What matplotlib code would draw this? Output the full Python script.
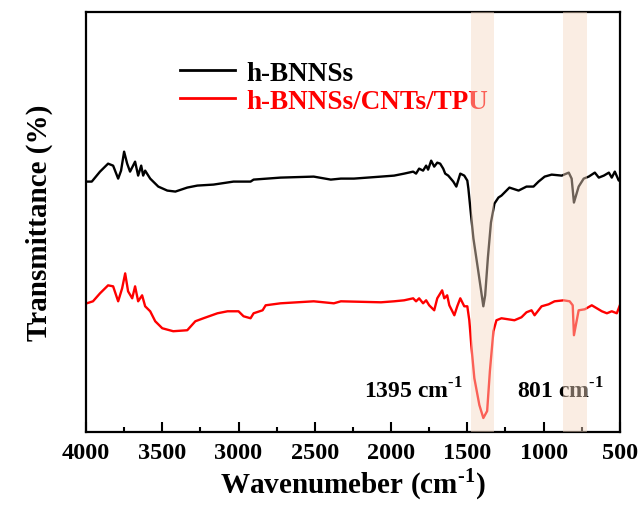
import matplotlib
matplotlib.use("Agg")
import matplotlib.pyplot as plt
from matplotlib.ticker import MultipleLocator

plt.rcParams['font.family'] = ['Liberation Serif', 'DejaVu Serif']
plt.rcParams['font.weight'] = 'bold'
plt.rcParams['mathtext.fontset'] = 'custom'
plt.rcParams['mathtext.rm'] = 'Liberation Serif:bold'
plt.rcParams['mathtext.bf'] = 'Liberation Serif:bold'

# FTIR spectra (wavenumber in cm-1, transmittance in a.u.)
bnns_wn = [3995, 3962, 3908, 3855, 3822, 3789, 3770, 3750, 3730, 3711, 3678, 3658,
           3638, 3625, 3612, 3579, 3526, 3467, 3414, 3336, 3270, 3164, 3033, 2921,
           2901, 2724, 2507, 2395, 2329, 2243, 2066, 1980, 1914, 1855, 1836, 1816,
           1790, 1770, 1757, 1737, 1717, 1697, 1678, 1658, 1645, 1625, 1592, 1572,
           1546, 1520, 1500, 1493, 1480, 1460, 1428, 1410, 1395, 1383, 1365, 1345,
           1322, 1296, 1276, 1224, 1164, 1112, 1066, 1033, 993, 947, 881, 835,
           816, 801, 770, 737, 704, 664, 638, 605, 572, 553, 533, 507, 500]
bnns_t = [251, 251, 261, 269, 267, 254, 262, 281, 269, 261, 271, 257,
          267, 257, 262, 254, 246, 242, 241, 245, 247, 248, 251, 251,
          253, 255, 256, 253, 254, 254, 256, 257, 259, 261, 259, 264,
          262, 267, 263, 272, 266, 270, 269, 264, 259, 257, 251, 246,
          259, 257, 252, 244, 224, 194, 161, 142, 126, 137, 175, 210,
          229, 235, 237, 245, 242, 246, 246, 251, 256, 258, 257, 260,
          254, 230, 246, 254, 256, 260, 255, 257, 260, 255, 261, 252, 254]

comp_wn = [3995, 3954, 3908, 3855, 3822, 3789, 3763, 3743, 3724, 3697, 3678, 3658,
           3632, 3612, 3579, 3546, 3500, 3428, 3336, 3283, 3230, 3138, 3072, 3000,
           2967, 2921, 2901, 2842, 2822, 2724, 2507, 2375, 2329, 2066, 1980, 1914,
           1855, 1836, 1816, 1790, 1770, 1750, 1717, 1697, 1665, 1651, 1632, 1618,
           1585, 1566, 1546, 1520, 1500, 1487, 1480, 1474, 1454, 1421, 1395, 1370,
           1352, 1329, 1309, 1276, 1191, 1145, 1112, 1079, 1059, 1013, 967, 928,
           868, 829, 809, 801, 770, 730, 684, 651, 618, 585, 553, 520, 500]
comp_t = [129, 131, 139, 147, 146, 131, 144, 159, 141, 134, 146, 131,
          137, 126, 121, 111, 104, 101, 102, 111, 114, 119, 121, 121,
          116, 114, 119, 122, 127, 129, 131, 129, 131, 130, 131, 132,
          134, 131, 134, 129, 132, 127, 122, 134, 142, 134, 137, 127,
          117, 126, 134, 126, 126, 112, 99, 87, 54, 27, 14, 21,
          61, 101, 112, 114, 112, 115, 120, 122, 117, 126, 128, 131,
          132, 131, 127, 97, 122, 123, 127, 124, 121, 119, 121, 119, 127]

series_labels = ['h-BNNSs', 'h-BNNSs/CNTs/TPU']
series_colors = ['black', 'red']
band_ranges = [(1474, 1322), (875, 717)]
peak_labels = [r'1395 cm$^{\text{-1}}$', r'801 cm$^{\text{-1}}$']

fig = plt.figure(figsize=(6.44, 5.10), dpi=100)
ax = fig.add_axes([0.1335, 0.151, 0.829, 0.8235])

ax.plot(bnns_wn, bnns_t, color=series_colors[0], lw=1.7, label=series_labels[0])
ax.plot(comp_wn, comp_t, color=series_colors[1], lw=1.7, label=series_labels[1])

# highlighted absorption bands drawn over the curves
for lo, hi in band_ranges:
    ax.axvspan(lo, hi, color='#f5d9c3', alpha=0.45, lw=0, zorder=6)

ax.text(1855, 42, peak_labels[0], ha='center', va='center', fontsize=17, fontweight='bold')
ax.text(888, 42, peak_labels[1], ha='center', va='center', fontsize=17, fontweight='bold')

ax.set_xlim(4000, 500)
ax.set_ylim(0, 421)
ax.xaxis.set_major_locator(MultipleLocator(500))
ax.xaxis.set_minor_locator(MultipleLocator(250))
ax.set_yticks([])
ax.tick_params(axis='x', which='major', direction='in', length=7, width=1.5,
               labelsize=17.5, pad=7)
ax.tick_params(axis='x', which='minor', direction='in', length=3.5, width=1.5)
for s in ax.spines.values():
    s.set_linewidth(1.6)

ax.set_xlabel(r'Wavenumeber (cm$^{\text{-1}}$)', fontsize=21, fontweight='bold', labelpad=2)
ax.set_ylabel('Transmittance (%)', fontsize=21, fontweight='bold', labelpad=24)

leg = ax.legend(loc='upper left', bbox_to_anchor=(0.155, 0.91), frameon=False,
                fontsize=19.5, handlelength=2.05, handletextpad=0.4, labelspacing=0.12,
                borderaxespad=0)
for txt, c in zip(leg.get_texts(), series_colors):
    txt.set_color(c)
for ln in leg.get_lines():
    ln.set_linewidth(2)
leg.set_zorder(5)

fig.savefig('out.png', dpi=100)
